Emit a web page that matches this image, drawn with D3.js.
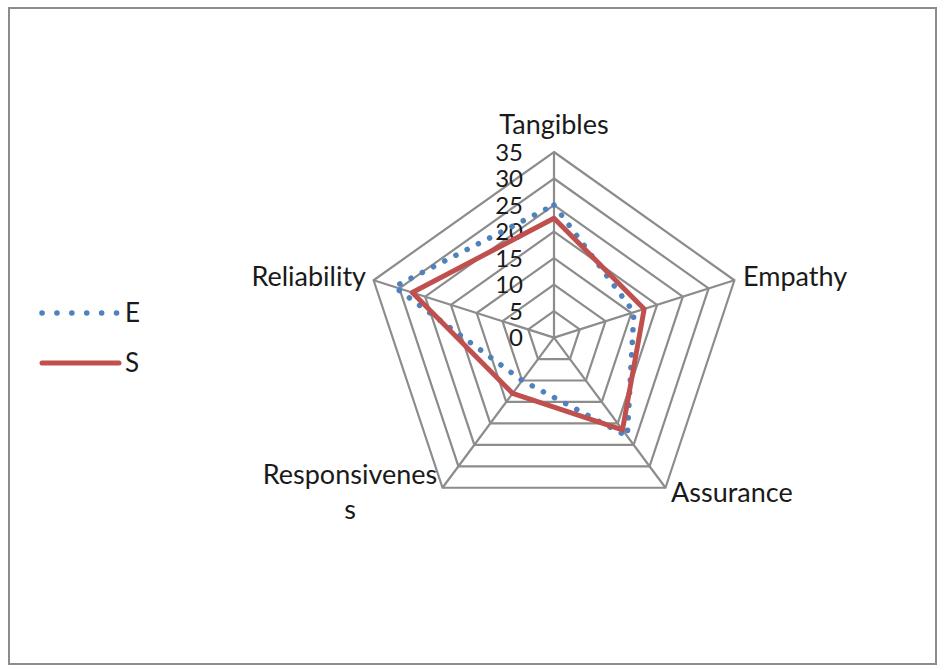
<!DOCTYPE html>
<html>
<head>
<meta charset="utf-8">
<script src="https://cdn.jsdelivr.net/npm/d3@7"></script>
<style>
	body { margin: 0; background: #fff; }
	svg text { font-family: Lato, "Open Sans", sans-serif; fill: #1a1a1a; }
</style>
</head>
<body>
<div id="radar"></div>
<script>
// data
let axes = ["Tangibles", "Empathy", "Assurance", "Responsiveness", "Reliability"];
let seriesNames = ["E", "S"];
let valuesE = [25, 15.5, 23, 10, 31];
let valuesS = [22.5, 17.5, 21.5, 13, 27.5];
let ticks = [0, 5, 10, 15, 20, 25, 30, 35];

let width = 944;
let height = 670;
let cx = 554;
let cy = 337.6;
let stretchX = 1.022;

let svg = d3.select("#radar")
	.append("svg")
	.attr("width", width)
	.attr("height", height);

// outer frame
svg.append("rect")
	.attr("x", 9)
	.attr("y", 8)
	.attr("width", 927)
	.attr("height", 656)
	.attr("fill", "none")
	.attr("stroke", "#8c8c8c")
	.attr("stroke-width", 2);

let r = d3.scaleLinear()
	.domain([0, d3.max(ticks)])
	.range([0, 185.6]);

let angle = d3.scalePoint()
	.domain(axes)
	.range([0, 2 * Math.PI * (axes.length - 1) / axes.length]);

function pt(name, v) {
	let a = angle(name) - Math.PI / 2;
	return [cx + Math.cos(a) * r(v) * stretchX, cy + Math.sin(a) * r(v)];
}

let line = d3.line().curve(d3.curveLinearClosed);

// grid rings
let grid = svg.append("g").attr("class", "grid");
grid.selectAll("path.ring")
	.data(ticks.filter(t => t > 0))
	.enter()
	.append("path")
	.attr("class", "ring")
	.attr("d", t => line(axes.map(a => pt(a, t))))
	.attr("fill", "none")
	.attr("stroke", "#8c8c8c")
	.attr("stroke-width", 2.2);

grid.selectAll("line.spoke")
	.data(axes)
	.enter()
	.append("line")
	.attr("class", "spoke")
	.attr("x1", cx)
	.attr("y1", cy)
	.attr("x2", a => pt(a, d3.max(ticks))[0])
	.attr("y2", a => pt(a, d3.max(ticks))[1])
	.attr("stroke", "#8c8c8c")
	.attr("stroke-width", 2.2);

// tick labels along the top axis
svg.append("g")
	.selectAll("text")
	.data(ticks)
	.enter()
	.append("text")
	.attr("x", 523)
	.attr("y", t => cy - r(t))
	.attr("dy", "0.36em")
	.attr("text-anchor", "end")
	.style("font-size", "24px")
	.text(t => t);

// series
let series = [
	{ name: seriesNames[0], values: valuesE, color: "#4f81bd", dash: "0.1 12.5", width: 5.5 },
	{ name: seriesNames[1], values: valuesS, color: "#c0504d", dash: null, width: 5 }
];

svg.append("g")
	.selectAll("path")
	.data(series)
	.enter()
	.append("path")
	.attr("d", s => line(axes.map((a, i) => pt(a, s.values[i]))))
	.attr("fill", "none")
	.attr("stroke", s => s.color)
	.attr("stroke-width", s => s.width)
	.attr("stroke-dasharray", s => s.dash)
	.attr("stroke-linecap", "round")
	.attr("stroke-linejoin", "round");

// axis labels
let labels = [
	{ lines: ["Tangibles"], x: 554, y: 134, anchor: "middle" },
	{ lines: ["Empathy"], x: 743, y: 286, anchor: "start" },
	{ lines: ["Assurance"], x: 671, y: 502, anchor: "start" },
	{ lines: ["Responsivenes", "s"], x: 350, y: 484, anchor: "middle" },
	{ lines: ["Reliability"], x: 366, y: 286, anchor: "end" }
];

let lab = svg.append("g")
	.selectAll("text")
	.data(labels)
	.enter()
	.append("text")
	.attr("x", d => d.x)
	.attr("y", d => d.y)
	.attr("text-anchor", d => d.anchor)
	.style("font-size", "27px");

lab.selectAll("tspan")
	.data(d => d.lines.map(l => ({ t: l, x: d.x })))
	.enter()
	.append("tspan")
	.attr("x", d => d.x)
	.attr("dy", (d, i) => i === 0 ? 0 : 35)
	.text(d => d.t);

// legend
let legend = svg.append("g")
	.selectAll("g")
	.data(series)
	.enter()
	.append("g")
	.attr("transform", (d, i) => "translate(0," + (313 + i * 50) + ")");

legend.append("line")
	.attr("x1", 42)
	.attr("x2", d => d.dash ? 118 : 119)
	.attr("y1", 0)
	.attr("y2", 0)
	.attr("stroke", d => d.color)
	.attr("stroke-width", d => d.width)
	.attr("stroke-dasharray", d => d.dash ? "0.1 14.8" : null)
	.attr("stroke-linecap", "round");

legend.append("text")
	.attr("x", 125)
	.attr("y", 0)
	.attr("dy", "0.36em")
	.style("font-size", "26px")
	.text(d => d.name);
</script>
</body>
</html>
